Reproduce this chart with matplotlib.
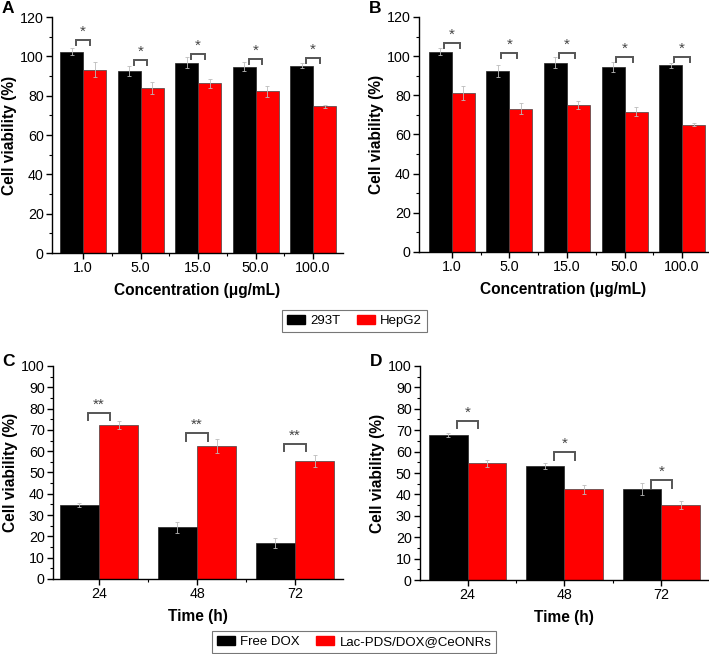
import matplotlib
matplotlib.use("Agg")
import matplotlib.pyplot as plt
import numpy as np
from matplotlib.patches import Patch
from matplotlib.ticker import MultipleLocator, FixedLocator

plt.rcParams['font.family'] = ['Liberation Sans', 'DejaVu Sans']

# panel A / B : concentration series
conc_labels = ["1.0", "5.0", "15.0", "50.0", "100.0"]
a_293t = [102.3, 92.7, 96.8, 94.7, 95.2]
a_293t_err = [1.8, 2.6, 2.8, 2.4, 1.3]
a_hepg2 = [93.3, 84.0, 86.2, 82.3, 74.6]
a_hepg2_err = [3.8, 3.2, 2.4, 2.8, 0.8]
a_bracket = [108.3, 98.0, 101.2, 98.6, 99.0]
a_stars = ["*", "*", "*", "*", "*"]

b_293t = [102.2, 92.4, 96.7, 94.5, 95.3]
b_293t_err = [1.8, 2.9, 2.8, 2.5, 1.3]
b_hepg2 = [81.1, 73.1, 74.9, 71.6, 65.0]
b_hepg2_err = [3.6, 2.8, 2.1, 2.4, 0.8]
b_bracket = [106.7, 101.5, 101.5, 99.5, 99.5]
b_stars = ["*", "*", "*", "*", "*"]

# panel C / D : time series
time_labels = ["24", "48", "72"]
c_free = [34.7, 24.3, 16.8]
c_free_err = [0.8, 2.6, 2.4]
c_lac = [72.3, 62.4, 55.5]
c_lac_err = [2.0, 3.2, 2.7]
c_bracket = [78.0, 68.5, 63.4]
c_stars = ["**", "**", "**"]

d_free = [67.8, 53.3, 42.7]
d_free_err = [1.1, 1.5, 2.8]
d_lac = [54.5, 42.4, 35.0]
d_lac_err = [1.6, 2.0, 1.9]
d_bracket = [74.3, 59.8, 46.7]
d_stars = ["*", "*", "*"]

legend1 = ["293T", "HepG2"]
legend2 = ["Free DOX", "Lac-PDS/DOX@CeONRs"]

BLACK = "#000000"
RED = "#ff0000"
GRAY = "#555555"


def draw_panel(ax, labels, s1, e1, s2, e2, brackets, stars, ymax, ystep,
               minor, xlabel, letter, half, leg, xlim, let_y):
    x = np.arange(len(labels))
    w = 0.4
    ax.bar(x - w / 2, s1, w, color=BLACK, edgecolor="#222222", linewidth=0.5)
    ax.bar(x + w / 2, s2, w, color=RED, edgecolor="#444444", linewidth=0.5)
    ax.errorbar(x - w / 2, s1, yerr=e1, fmt="none", ecolor="#bbbbbb",
                elinewidth=0.6, capsize=1.5, capthick=0.6)
    ax.errorbar(x + w / 2, s2, yerr=e2, fmt="none", ecolor="#bbbbbb",
                elinewidth=0.6, capsize=1.5, capthick=0.6)
    for xi, yb, st in zip(x, brackets, stars):
        ax.plot([xi - half, xi - half, xi + half, xi + half],
                [yb - leg, yb, yb, yb - leg], color=GRAY, lw=1.4,
                solid_joinstyle="miter")
        ax.text(xi, yb + 0.6, st, ha="center", va="bottom", fontsize=11,
                color="#444444")
    ax.set_xlim(*xlim)
    ax.set_ylim(0, ymax)
    ax.set_xticks(x)
    ax.set_xticklabels(labels)
    ax.xaxis.set_minor_locator(FixedLocator(x[:-1] + 0.5))
    ax.yaxis.set_major_locator(MultipleLocator(ystep))
    ax.yaxis.set_minor_locator(MultipleLocator(minor))
    ax.spines["top"].set_visible(False)
    ax.spines["right"].set_visible(False)
    for sp in ("left", "bottom"):
        ax.spines[sp].set_linewidth(1.0)
    ax.tick_params(which="major", direction="out", length=4, width=1,
                   labelsize=10.3, pad=2)
    ax.tick_params(which="minor", direction="out", length=2, width=0.8)
    ax.set_ylabel("Cell viability (%)", fontsize=11.2, fontweight="bold",
                  labelpad=2)
    ax.set_xlabel(xlabel, fontsize=11.2, fontweight="bold", labelpad=5.5)
    ax.text(-0.152, let_y, letter, transform=ax.transAxes, fontsize=12.5,
            fontweight="bold", ha="center", va="center")


fig = plt.figure(figsize=(7.09, 6.54), dpi=100)
axA = fig.add_axes([0.0733, 0.6131, 0.4105, 0.3609])
axB = fig.add_axes([0.5910, 0.6147, 0.4076, 0.3594])
axC = fig.add_axes([0.0748, 0.1147, 0.4090, 0.3257])
axD = fig.add_axes([0.5924, 0.1131, 0.4062, 0.3273])

draw_panel(axA, conc_labels, a_293t, a_293t_err, a_hepg2, a_hepg2_err,
           a_bracket, a_stars, 120, 20, 10, "Concentration (μg/mL)", "A",
           0.12, 2.5, (-0.54, 4.52), 1.035)
draw_panel(axB, conc_labels, b_293t, b_293t_err, b_hepg2, b_hepg2_err,
           b_bracket, b_stars, 120, 20, 10, "Concentration (μg/mL)", "B",
           0.14, 2.5, (-0.57, 4.45), 1.035)
draw_panel(axC, time_labels, c_free, c_free_err, c_lac, c_lac_err,
           c_bracket, c_stars, 100, 10, 5, "Time (h)", "C",
           0.11, 3.5, (-0.47, 2.49), 1.02)
draw_panel(axD, time_labels, d_free, d_free_err, d_lac, d_lac_err,
           d_bracket, d_stars, 100, 10, 5, "Time (h)", "D",
           0.11, 3.5, (-0.49, 2.48), 1.02)

h1 = [Patch(facecolor=BLACK, edgecolor=BLACK), Patch(facecolor=RED, edgecolor=RED)]
leg_kw = dict(ncol=2, fontsize=9.5, frameon=True, fancybox=False,
              handlelength=1.4, handleheight=0.7, handletextpad=0.4,
              columnspacing=1.2, borderpad=0.35, loc="center")
l1 = fig.legend(h1, legend1, bbox_to_anchor=(0.5, 0.509), **leg_kw)
l2 = fig.legend(h1, legend2, bbox_to_anchor=(0.4993, 0.0183), **leg_kw)
for lg in (l1, l2):
    lg.get_frame().set_edgecolor(GRAY)
    lg.get_frame().set_linewidth(0.8)

fig.savefig("out.png", dpi=100)
